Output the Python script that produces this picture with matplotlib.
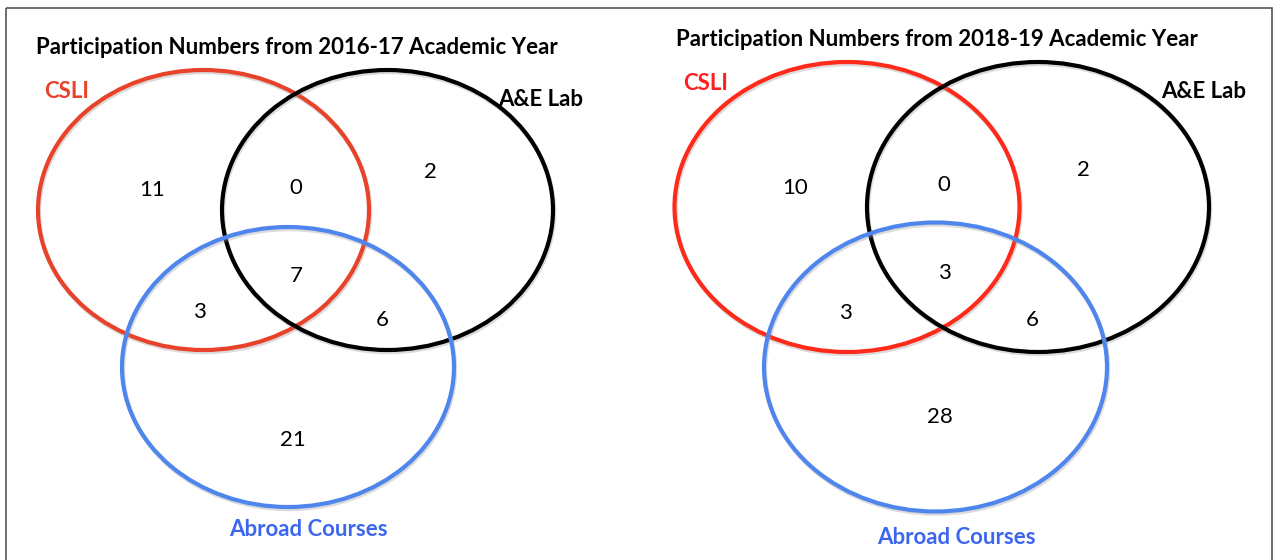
import matplotlib.pyplot as plt
from matplotlib.patches import Ellipse, Rectangle

plt.rcParams['font.family'] = ['Lato', 'DejaVu Sans']

# data
titles = ['Participation Numbers from 2016-17 Academic Year',
          'Participation Numbers from 2018-19 Academic Year']
set_names = ['CSLI', 'A&E Lab', 'Abroad Courses']
# regions: CSLI only, CSLI&Lab, Lab only, all three, CSLI&Abroad, Lab&Abroad, Abroad only
region_keys = ['c', 'cl', 'l', 'cla', 'ca', 'la', 'a']
counts_1617 = [11, 0, 2, 7, 3, 6, 21]
counts_1819 = [10, 0, 2, 3, 3, 6, 28]

# layout (pixels)
panels = [
    dict(circ=[(203.5, 210, 331, 280), (387.5, 210, 331, 280), (288, 367, 332, 280)],
         title=(36, 47),
         names=[(44, 92, 'left'), (541, 100, 'center'), (308, 530, 'center')],
         nums={'c': (152, 190), 'cl': (296, 188), 'l': (430, 172), 'cla': (296, 276),
               'ca': (199, 312), 'la': (382, 320), 'a': (293, 440)},
         colors=['#E8432A', '#000000', '#4F86EE'],
         text_colors=['#E8432A', '#000000', '#3D66EE']),
    dict(circ=[(847, 207, 345, 290), (1038, 207, 342, 290), (935.5, 367, 343, 289)],
         title=(676, 40),
         names=[(683, 83, 'left'), (1204, 92, 'center'), (956, 537, 'center')],
         nums={'c': (795, 188), 'cl': (944, 185), 'l': (1083, 170), 'cla': (944, 273),
               'ca': (845, 313), 'la': (1032, 320), 'a': (940, 417)},
         colors=['#FF2A1A', '#000000', '#4F86EE'],
         text_colors=['#FF1F1F', '#000000', '#3D66EE']),
]

fig = plt.figure(figsize=(12.77, 5.6), dpi=100)
ax = fig.add_axes([0, 0, 1, 1])
ax.set_xlim(0, 1277)
ax.set_ylim(560, 0)
ax.axis('off')

# frame
ax.add_patch(Rectangle((6, 8), 1266, 600, fill=False, ec='#555555', lw=1.2))

for p, title, counts in zip(panels, titles, [counts_1617, counts_1819]):
    ax.text(p['title'][0], p['title'][1], title, fontsize=16, fontweight='bold',
            ha='left', va='center', color='black')
    for (cx, cy, w, h), col in zip(p['circ'], p['colors']):
        # soft shadow
        ax.add_patch(Ellipse((cx + 1, cy + 2), w, h, fill=False, ec='#999999',
                             lw=3.2, alpha=0.35))
        ax.add_patch(Ellipse((cx, cy), w, h, fill=False, ec=col, lw=3.0))
    for name, (x, y, ha), col in zip(set_names, p['names'], p['text_colors']):
        ax.text(x, y, name, fontsize=16, fontweight='bold', color=col,
                ha=ha, va='center')
    for key, val in zip(region_keys, counts):
        x, y = p['nums'][key]
        ax.text(x, y, str(val), fontsize=16, ha='center', va='center', color='black')

fig.savefig('out.png', dpi=100, facecolor='white')
